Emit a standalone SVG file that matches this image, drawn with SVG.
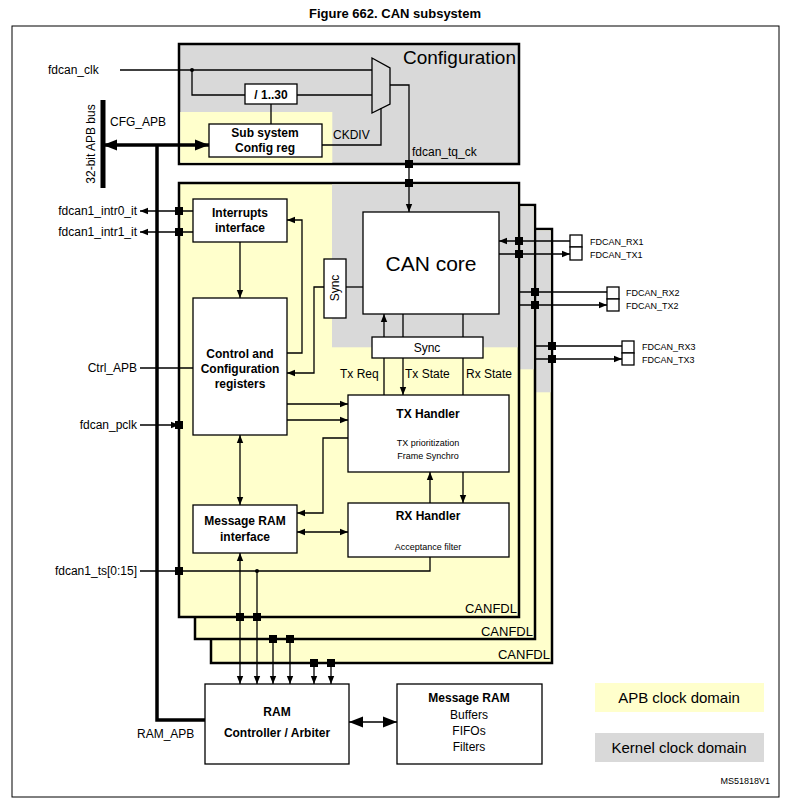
<svg xmlns="http://www.w3.org/2000/svg" width="791" height="806" viewBox="0 0 791 806">
<defs>
<marker id="a" viewBox="0 0 10 10" refX="10" refY="5" markerWidth="8" markerHeight="8" orient="auto-start-reverse" markerUnits="userSpaceOnUse"><path d="M0,1 L10,5 L0,9 z" fill="#000"/></marker>
<marker id="b" viewBox="0 0 10 10" refX="10" refY="5" markerWidth="14" markerHeight="14" orient="auto-start-reverse" markerUnits="userSpaceOnUse"><path d="M0,1 L10,5 L0,9 z" fill="#000"/></marker>
</defs>
<style>
text{font-family:"Liberation Sans",Arial,sans-serif;fill:#000}
.b{font-weight:bold;font-size:12px}
.t{font-size:12px}
.s{font-size:9px}
.box{fill:#fff;stroke:#000;stroke-width:1.3}
.w{fill:none;stroke:#000;stroke-width:1.3}
.th{fill:none;stroke:#000;stroke-width:4}
.frame{stroke:#000;stroke-width:2.5}
</style>
<rect width="791" height="806" fill="#fff"/>
<text x="395" y="18" text-anchor="middle" style="font-weight:bold;font-size:13px">Figure 662. CAN subsystem</text>
<rect x="12" y="26" width="767" height="771" fill="none" stroke="#000" stroke-width="1"/>

<g id="configuration">
<rect x="179" y="44" width="340" height="120" fill="#d9d9d9" class="frame"/>
<rect x="180.3" y="112" width="152" height="50.7" fill="#ffffcc"/>
<text x="516" y="64" text-anchor="end" style="font-size:19px">Configuration</text>
</g>

<g id="canfdl3">
<rect x="211" y="229" width="341" height="434" fill="#ffffcc" class="frame"/>
<rect x="332" y="230.3" width="218.7" height="162" fill="#d9d9d9"/>
<text x="550" y="659" text-anchor="end" style="font-size:13px">CANFDL</text>
</g>
<g id="canfdl2">
<rect x="195" y="205" width="340" height="434" fill="#ffffcc" class="frame"/>
<rect x="332" y="206.3" width="201.7" height="163" fill="#d9d9d9"/>
<text x="533" y="636" text-anchor="end" style="font-size:13px">CANFDL</text>
</g>
<g id="canfdl1">
<rect x="179" y="183" width="340" height="434" fill="#ffffcc" class="frame"/>
<rect x="332" y="184.3" width="185.7" height="163" fill="#d9d9d9"/>
<text x="517" y="613" text-anchor="end" style="font-size:13px">CANFDL</text>
</g>

<g id="apb-bus">
<line x1="103" y1="100" x2="103" y2="188" stroke="#000" stroke-width="5"/>
<text transform="translate(95,144) rotate(-90)" text-anchor="middle" class="t">32-bit APB bus</text>
<text x="110" y="126" class="t">CFG_APB</text>
</g>

<g id="div"><rect x="245" y="84" width="52" height="20" class="box"/><text x="271" y="99" text-anchor="middle" class="b">/ 1..30</text></g>
<g id="mux"><path d="M372,58 L390,68 L390,104 L372,113 Z" fill="#d9d9d9" stroke="#000" stroke-width="1.3"/></g>
<g id="subsys"><rect x="209" y="124" width="113" height="33" class="box"/><text x="265" y="137" text-anchor="middle" class="b">Sub system</text><text x="265" y="152" text-anchor="middle" class="b">Config reg</text></g>

<g id="cancore"><rect x="363" y="212" width="136" height="102" class="box"/><text x="431" y="271" text-anchor="middle" style="font-size:21px">CAN core</text></g>
<g id="syncv"><rect x="324" y="259" width="22" height="59" class="box"/><text transform="translate(339,288) rotate(-90)" text-anchor="middle" class="t">Sync</text></g>
<g id="synch"><rect x="372" y="337" width="111" height="21" class="box"/><text x="427" y="352" text-anchor="middle" class="t">Sync</text></g>
<g id="interrupts"><rect x="193" y="199" width="94" height="43" class="box"/><text x="240" y="217" text-anchor="middle" class="b">Interrupts</text><text x="240" y="232" text-anchor="middle" class="b">interface</text></g>
<g id="control"><rect x="193" y="298" width="94" height="137" class="box"/><text x="240" y="358" text-anchor="middle" class="b">Control and</text><text x="240" y="373" text-anchor="middle" class="b">Configuration</text><text x="240" y="388" text-anchor="middle" class="b">registers</text></g>
<g id="tx"><rect x="348" y="395" width="161" height="77" class="box"/><text x="428" y="418" text-anchor="middle" class="b">TX Handler</text><text x="428" y="446" text-anchor="middle" class="s">TX prioritization</text><text x="428" y="459" text-anchor="middle" class="s">Frame Synchro</text></g>
<g id="rx"><rect x="348" y="503" width="161" height="54" class="box"/><text x="428" y="520" text-anchor="middle" class="b">RX Handler</text><text x="428" y="550" text-anchor="middle" class="s">Acceptance filter</text></g>
<g id="msgramif"><rect x="193" y="505" width="104" height="48" class="box"/><text x="245" y="525" text-anchor="middle" class="b">Message RAM</text><text x="245" y="541" text-anchor="middle" class="b">interface</text></g>
<g id="ramctrl"><rect x="205" y="684" width="144" height="80" class="box"/><text x="277" y="716" text-anchor="middle" class="b">RAM</text><text x="277" y="737" text-anchor="middle" class="b">Controller / Arbiter</text></g>
<g id="msgram"><rect x="397" y="684" width="145" height="80" class="box"/><text x="469" y="702" text-anchor="middle" class="b">Message RAM</text><text x="469" y="719" text-anchor="middle" class="t">Buffers</text><text x="469" y="735" text-anchor="middle" class="t">FIFOs</text><text x="469" y="751" text-anchor="middle" class="t">Filters</text></g>

<g id="pins">
<rect x="570" y="235" width="12" height="12" class="box"/><rect x="570" y="247" width="12" height="13" class="box"/>
<text x="590" y="245" class="s">FDCAN_RX1</text><text x="590" y="258" class="s">FDCAN_TX1</text>
<rect x="607" y="287" width="12" height="12" class="box"/><rect x="607" y="299" width="12" height="12" class="box"/>
<text x="626" y="296" class="s">FDCAN_RX2</text><text x="626" y="309" class="s">FDCAN_TX2</text>
<rect x="622" y="341" width="12" height="12" class="box"/><rect x="622" y="353" width="12" height="12" class="box"/>
<text x="642" y="350" class="s">FDCAN_RX3</text><text x="642" y="363" class="s">FDCAN_TX3</text>
</g>

<g id="legend">
<rect x="595" y="683" width="169" height="29" fill="#ffffcc"/><text x="679" y="703" text-anchor="middle" style="font-size:15px">APB clock domain</text>
<rect x="595" y="733" width="169" height="29" fill="#d9d9d9"/><text x="679" y="753" text-anchor="middle" style="font-size:15px">Kernel clock domain</text>
<text x="770" y="784" text-anchor="end" class="s">MS51818V1</text>
</g>

<g id="labels" class="t">
<text x="48" y="74" class="t">fdcan_clk</text>
<text x="333" y="139" class="t">CKDIV</text>
<text x="412" y="156" class="t">fdcan_tq_ck</text>
<text x="137" y="215" text-anchor="end" class="t">fdcan1_intr0_it</text>
<text x="137" y="236" text-anchor="end" class="t">fdcan1_intr1_it</text>
<text x="137" y="372" text-anchor="end" class="t">Ctrl_APB</text>
<text x="137" y="429" text-anchor="end" class="t">fdcan_pclk</text>
<text x="137" y="575" text-anchor="end" class="t">fdcan1_ts[0:15]</text>
<text x="137" y="738" class="t">RAM_APB</text>
<text x="340" y="378" class="t">Tx Req</text>
<text x="405" y="378" class="t">Tx State</text>
<text x="466" y="378" class="t">Rx State</text>
</g>

<g id="connectors">
<path class="w" d="M120,70 H372"/>
<circle cx="192" cy="70" r="2"/>
<path class="w" d="M192,70 V95 H245 M297,95 H372 M271,104 V124 M322,145 H381 V108"/>
<path class="w" d="M390,85 H409 V212" marker-end="url(#a)"/>
<path class="th" d="M103,145 H209" marker-start="url(#b)" marker-end="url(#b)" style="stroke-width:3.5"/>
<path class="th" d="M157,145 V720 H205" style="stroke-width:3.5"/>
<path class="w" d="M193,211 H140" marker-end="url(#a)"/>
<path class="w" d="M193,232 H140" marker-end="url(#a)"/>
<path class="w" d="M240,242 V298" marker-end="url(#a)"/>
<path class="w" d="M287,353 H302 V220 H287" marker-end="url(#a)"/>
<path class="w" d="M324,287 H314 V373 H287" marker-end="url(#a)"/>
<path class="w" d="M363,287 H346"/>
<path class="w" d="M140,368 H193"/>
<path class="w" d="M140,425 H179" marker-end="url(#a)"/>
<path class="w" d="M287,404 H348" marker-end="url(#a)"/>
<path class="w" d="M287,420 H348" marker-end="url(#a)"/>
<path class="w" d="M348,438 H323 V513 H297" marker-end="url(#a)"/>
<path class="w" d="M297,532 H348" marker-start="url(#a)" marker-end="url(#a)"/>
<path class="w" d="M240,435 V505" marker-start="url(#a)" marker-end="url(#a)"/>
<path class="w" d="M430,503 V472" marker-end="url(#a)"/>
<path class="w" d="M463,472 V503" marker-end="url(#a)"/>
<path class="w" d="M384,337 V314" marker-end="url(#a)"/>
<path class="w" d="M403,314 V337 M463,314 V337 M384,358 V395 M463,358 V395"/>
<path class="w" d="M403,358 V395" marker-end="url(#a)"/>
<path class="w" d="M140,571 H430 V557"/>
<circle cx="257" cy="571" r="2"/>
<path class="w" d="M240,553 V684" marker-start="url(#a)" marker-end="url(#a)"/>
<path class="w" d="M257,571 V684" marker-end="url(#a)"/>
<path class="w" d="M273,639 V684" marker-end="url(#a)"/>
<path class="w" d="M290,639 V684" marker-end="url(#a)"/>
<path class="w" d="M314,663 V684" marker-end="url(#a)"/>
<path class="w" d="M331,663 V684" marker-end="url(#a)"/>
<path class="w" d="M349,722 H397" marker-start="url(#b)" marker-end="url(#b)"/>
<path class="w" d="M570,241 H499" marker-end="url(#a)"/>
<path class="w" d="M499,254 H570" marker-end="url(#a)"/>
<path class="w" d="M519,292 H607"/>
<path class="w" d="M519,305 H607" marker-end="url(#a)"/>
<path class="w" d="M535,346 H622"/>
<path class="w" d="M535,359 H622" marker-end="url(#a)"/>
<g fill="#000">
<rect x="405" y="160" width="8" height="8"/><rect x="405" y="179" width="8" height="8"/>
<rect x="175" y="207" width="8" height="8"/><rect x="175" y="228" width="8" height="8"/>
<rect x="175" y="421" width="8" height="8"/><rect x="175" y="567" width="8" height="8"/>
<rect x="515" y="237" width="8" height="8"/><rect x="515" y="250" width="8" height="8"/>
<rect x="531" y="288" width="8" height="8"/><rect x="531" y="301" width="8" height="8"/>
<rect x="548" y="342" width="8" height="8"/><rect x="548" y="355" width="8" height="8"/>
<rect x="236" y="613" width="8" height="8"/><rect x="253" y="613" width="8" height="8"/>
<rect x="269" y="635" width="8" height="8"/><rect x="286" y="635" width="8" height="8"/>
<rect x="310" y="659" width="8" height="8"/><rect x="327" y="659" width="8" height="8"/>
</g>
</g>
</svg>
